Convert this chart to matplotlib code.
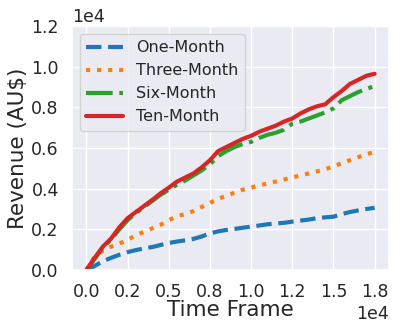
import numpy as np
import matplotlib
matplotlib.use("Agg")
import matplotlib.pyplot as plt
import seaborn as sns
from matplotlib.ticker import ScalarFormatter, MultipleLocator

time_frame = list(range(0, 18000, 500))

one_month = [0, 200, 430, 600, 750, 880, 980, 1060, 1130, 1230, 1330, 1400,
             1460, 1530, 1650, 1800, 1900, 1970, 2020, 2080, 2130, 2190, 2250, 2290,
             2320, 2380, 2430, 2480, 2550, 2590, 2620, 2750, 2850, 2930, 3000, 3060]
three_month = [0, 650, 950, 1150, 1300, 1480, 1700, 1880, 2050, 2220, 2450, 2650,
               2750, 2900, 3100, 3300, 3500, 3650, 3800, 3950, 4050, 4170, 4250, 4350,
               4450, 4550, 4650, 4750, 4850, 4950, 5100, 5250, 5400, 5550, 5700, 5800]
six_month = [0, 550, 1100, 1500, 2000, 2450, 2800, 3100, 3400, 3700, 3950, 4200,
             4400, 4650, 4900, 5200, 5600, 5850, 6050, 6200, 6300, 6500, 6650, 6750,
             6900, 7200, 7300, 7450, 7600, 7750, 7950, 8350, 8550, 8750, 8900, 9050]
ten_month = [0, 600, 1150, 1550, 2100, 2550, 2850, 3150, 3450, 3770, 4050, 4350,
             4550, 4750, 5050, 5400, 5850, 6050, 6250, 6450, 6600, 6800, 6950, 7100,
             7300, 7450, 7700, 7900, 8050, 8150, 8500, 8800, 9150, 9350, 9550, 9650]

labels = ["One-Month", "Three-Month", "Six-Month", "Ten-Month"]

sns.set_theme(style="darkgrid")
plt.rcParams['font.family'] = ['DejaVu Sans']

fig = plt.figure(figsize=(3.99, 3.32), dpi=100)
ax = fig.add_axes([0.1805, 0.1867, 0.7945, 0.735])

pal = sns.color_palette("tab10")
ax.plot(time_frame, one_month, linestyle='--', color=pal[0], lw=3, label=labels[0])
ax.plot(time_frame, three_month, linestyle=':', color=pal[1], lw=3, label=labels[1])
ax.plot(time_frame, six_month, linestyle='-.', color=pal[2], lw=3, label=labels[2])
ax.plot(time_frame, ten_month, linestyle='-', color=pal[3], lw=3, label=labels[3])

class FixedFmt(ScalarFormatter):
    def _set_format(self):
        self.format = "%1.1f"

for axis in (ax.xaxis, ax.yaxis):
    f = FixedFmt(useMathText=False)
    f.set_powerlimits((0, 0))
    axis.set_major_formatter(f)

ax.xaxis.set_major_locator(MultipleLocator(2500))
ax.yaxis.set_major_locator(MultipleLocator(2000))
ax.set_ylim(0, 12000)

ax.tick_params(labelsize=12.5)
ax.xaxis.get_offset_text().set_fontsize(12.5)
ax.yaxis.get_offset_text().set_fontsize(12.5)
ax.set_xlabel("Time Frame", fontsize=15.5, labelpad=-1)
ax.set_ylabel("Revenue (AU$)", fontsize=15.5, labelpad=2)
ax.legend(loc="upper left", fontsize=11.5, handlelength=2.3)

fig.savefig("out.png", dpi=100)
